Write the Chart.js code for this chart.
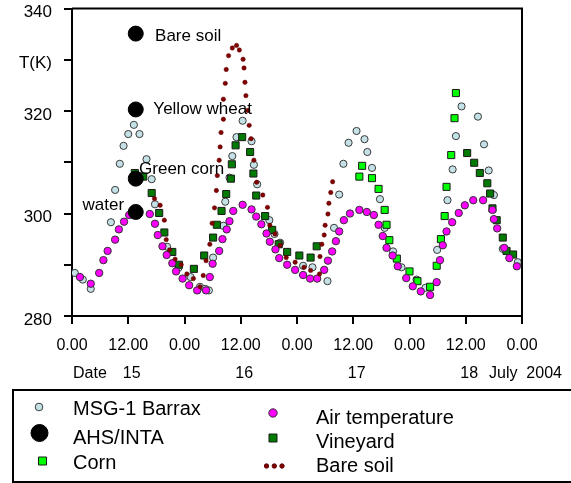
<!DOCTYPE html>
<html>
<head>
<meta charset="utf-8">
<script src="https://cdn.jsdelivr.net/npm/chart.js@4.4.0/dist/chart.umd.min.js"></script>
<style>
  html, body { margin: 0; padding: 0; background: #fff; }
</style>
</head>
<body>
<canvas id="chart" width="571" height="483"></canvas>
<script>
const FONT = "'Liberation Sans', Arial, sans-serif";

// x values are hours after 0.00 on 15 July 2004, y values are T(K)
const msgHours = [0.6, 2.3, 4.0, 8.3, 9.2, 10.2, 11.0, 12.0, 13.2, 14.4, 15.9, 17.0, 17.7, 20.3, 22.7,
  25.3, 27.3, 28.4, 29.2, 30.1, 32.3, 32.7, 33.6, 34.2, 35.1, 36.4, 38.3, 38.8, 39.5, 42.1, 43.2, 44.4,
  49.3, 51.3, 54.5, 55.9, 57.0, 57.9, 59.0, 60.7, 62.4, 63.0, 64.0, 65.7, 66.7, 68.5, 70.3, 73.5, 75.4,
  77.9, 80.1, 81.2, 81.9, 83.1, 86.6, 87.9, 88.9, 90.0, 91.9, 95.1];
const msgTemp = [288.4, 287.1, 285.3, 298.3, 304.6, 309.7, 313.2, 315.5, 317.3, 315.5, 310.6, 306.7, 301.8, 293.5, 289.4,
  287.6, 285.7, 285.3, 285.0, 291.4, 297.6, 302.3, 307.0, 311.2, 314.9, 318.1, 314.1, 309.5, 305.7, 298.7, 296.0, 294.3,
  289.8, 289.5, 286.8, 297.2, 303.7, 309.7, 313.8, 316.1, 314.5, 312.0, 308.9, 302.8, 297.2, 292.6, 289.5, 287.1, 285.5,
  292.9, 302.6, 308.6, 315.1, 320.9, 318.9, 313.5, 308.4, 303.6, 293.1, 290.5];

const ahsHours = [13.6, 13.6, 13.6, 13.6];
const ahsTemp = [335.1, 320.3, 306.8, 300.3];
const ahsLabels = ['Bare soil', 'Yellow wheat', 'Green corn', 'water'];

const cornHours = [61.3, 61.9, 64.0, 65.4, 66.7, 67.1, 67.7, 69.3, 72.0, 73.7, 76.4, 77.8, 78.7, 79.5, 79.9, 80.9, 81.6, 81.9];
const cornTemp = [307.2, 309.3, 306.9, 304.8, 300.7, 297.8, 294.8, 291.2, 288.7, 286.8, 285.7, 289.8, 295.0, 299.5, 305.2, 311.4, 318.6, 323.5];

const airHours = [1.7, 4.0, 5.8, 6.7, 7.6, 9.2, 10.0, 11.1, 12.2, 13.8, 16.6, 17.7, 18.3, 19.3, 20.2, 21.4, 22.2, 23.6,
  25.0, 26.7, 28.6, 29.4, 30.0, 31.4, 32.1, 33.0, 33.6, 34.4, 36.4, 38.3, 39.3, 40.4, 41.5, 42.2, 43.4, 44.2, 45.9,
  47.6, 49.3, 50.8, 52.3, 53.8, 54.6, 55.5, 56.3, 57.0, 58.0, 59.3, 61.3, 62.9, 64.4, 65.4, 66.3, 67.1, 68.4, 69.5,
  71.3, 72.7, 74.4, 76.4, 77.8, 78.5, 79.1, 79.9, 81.1, 82.5, 83.8, 85.6, 87.7, 89.7, 90.0, 90.7, 92.2, 93.3, 94.9];
const airTemp = [287.6, 286.3, 288.4, 290.9, 292.7, 294.9, 296.9, 298.4, 299.7, 300.2, 299.9, 298.0, 295.8, 293.6, 291.9, 290.3, 288.7, 287.3,
  286.0, 285.0, 285.0, 287.6, 290.2, 292.7, 295.0, 296.9, 298.5, 300.5, 301.7, 300.8, 299.4, 297.9, 296.1, 294.5, 293.0, 291.3, 290.0,
  289.0, 288.0, 287.3, 287.3, 289.0, 290.8, 292.6, 294.6, 296.5, 298.7, 300.0, 300.7, 300.3, 299.7, 297.8, 295.6, 293.3, 291.8, 289.7,
  287.4, 285.8, 284.8, 284.1, 286.6, 290.9, 293.8, 296.5, 298.3, 300.1, 301.6, 302.6, 302.6, 300.7, 298.9, 297.1, 293.3, 291.3, 289.7];

const vineHours = [13.4, 15.2, 17.0, 18.6, 19.7, 21.4, 22.8, 26.0, 28.2, 30.1, 30.9, 31.9, 32.9, 33.9, 34.1, 34.9, 36.3,
  38.0, 38.7, 39.3, 41.2, 42.7, 44.1, 45.9, 48.5, 50.9, 52.2,
  84.3, 85.8, 87.0, 88.6, 89.2, 89.7, 90.6, 91.9, 92.7, 94.1];
const vineTemp = [307.9, 307.2, 304.0, 300.1, 296.3, 292.5, 290.0, 289.2, 291.8, 295.3, 297.8, 300.5, 303.8, 306.8, 309.6, 313.3, 314.9,
  312.0, 307.8, 303.5, 299.5, 296.8, 294.0, 292.5, 291.8, 291.4, 293.6,
  311.8, 309.9, 307.9, 305.9, 303.9, 301.0, 298.7, 295.3, 292.7, 292.0];

const soilHours = [17.6, 18.8, 19.7, 20.1, 20.8, 22.0, 23.3, 24.5, 25.9, 27.3, 28.0, 28.6, 29.4, 29.9, 30.4, 30.8, 31.0,
  31.4, 31.6, 31.8, 32.3, 32.3, 32.7, 32.9, 33.4, 34.2, 35.1, 35.7, 36.5, 36.7, 36.9, 37.1, 37.5, 37.8, 38.2, 38.8,
  39.4, 40.7, 41.7, 42.2, 43.3, 44.4, 45.7, 47.6, 49.5, 50.9, 52.8, 52.9, 53.3, 53.8, 54.0, 54.6, 54.8, 55.2, 55.6];
const soilTemp = [302.9, 301.6, 298.7, 294.9, 292.9, 291.1, 290.0, 288.2, 287.3, 285.7, 287.9, 290.8, 294.0, 298.1, 301.1, 304.5, 307.4,
  310.4, 313.0, 315.8, 318.4, 322.3, 325.4, 328.1, 330.8, 332.3, 332.8, 331.9, 330.1, 328.4, 325.6, 323.0, 320.1, 317.2, 314.6, 310.4,
  306.1, 303.6, 301.2, 297.7, 296.0, 293.8, 291.4, 290.5, 289.5, 288.9, 288.2, 291.6, 294.0, 295.8, 297.7, 299.9, 302.0, 304.1, 306.2];

const xTickText = ['0.00', '12.00', '0.00', '12.00', '0.00', '12.00', '0.00', '12.00', '0.00'];
const yTickValues = [280, 290, 300, 310, 320, 330, 340];
const yTickText = ['280', '', '300', '', '320', 'T(K)', '340'];
const dateHours = [12, 36, 60, 84];
const dateText = ['15', '16', '17', '18'];

function pts(xs, ys) {
  return xs.map((x, i) => ({ x: x, y: ys[i] }));
}

const datasets = [
  { label: 'AHS/INTA', data: pts(ahsHours, ahsTemp), pointStyle: 'circle', pointRadius: 7.5,
    backgroundColor: '#000000', borderColor: '#000000', borderWidth: 1 },
  { label: 'Bare soil', data: pts(soilHours, soilTemp), pointStyle: 'circle', pointRadius: 2.2,
    backgroundColor: '#800000', borderColor: '#600000', borderWidth: 0.5 },
  { label: 'Air temperature', data: pts(airHours, airTemp), pointStyle: 'circle', pointRadius: 3.7,
    backgroundColor: '#ff00ff', borderColor: '#333333', borderWidth: 1 },
  { label: 'Corn', data: pts(cornHours, cornTemp), pointStyle: 'rect', pointRadius: 5,
    backgroundColor: '#00ff00', borderColor: '#1a1a1a', borderWidth: 1 },
  { label: 'Vineyard', data: pts(vineHours, vineTemp), pointStyle: 'rect', pointRadius: 5,
    backgroundColor: '#007a00', borderColor: '#1a1a1a', borderWidth: 1 },
  { label: 'MSG-1 Barrax', data: pts(msgHours, msgTemp), pointStyle: 'circle', pointRadius: 3.6,
    backgroundColor: '#c4e2e6', borderColor: '#3a3a3a', borderWidth: 1 }
];

function marker(ctx, ds, x, y, r) {
  ctx.fillStyle = ds.backgroundColor;
  ctx.strokeStyle = ds.borderColor;
  ctx.lineWidth = 1;
  ctx.beginPath();
  if (ds.pointStyle === 'rect') ctx.rect(x - r, y - r, 2 * r, 2 * r);
  else ctx.arc(x, y, r, 0, Math.PI * 2);
  ctx.fill();
  ctx.stroke();
}

const decor = {
  id: 'decor',
  afterDraw(chart) {
    const ctx = chart.ctx;
    const a = chart.chartArea;
    const xs = chart.scales.x;
    const ds = chart.data.datasets;
    const byLabel = l => ds.find(d => d.label === l);
    ctx.save();

    // frame top / right
    ctx.strokeStyle = '#000';
    ctx.lineWidth = 2;
    ctx.beginPath();
    ctx.moveTo(a.left, a.top);
    ctx.lineTo(a.right, a.top);
    ctx.lineTo(a.right, a.bottom);
    ctx.stroke();

    // labels next to the AHS points
    const meta = chart.getDatasetMeta(0);
    const offs = [[19.3, 7, 'left'], [17.6, 4.4, 'left'], [3.3, -5, 'left'], [-11.7, -1.7, 'right']];
    ctx.fillStyle = '#000';
    ctx.font = '17px ' + FONT;
    ctx.textBaseline = 'alphabetic';
    meta.data.forEach((p, i) => {
      ctx.textAlign = offs[i][2];
      ctx.fillText(ahsLabels[i], p.x + offs[i][0], p.y + offs[i][1]);
    });

    // date row
    ctx.font = '16px ' + FONT;
    ctx.textBaseline = 'middle';
    ctx.textAlign = 'left';
    ctx.fillText('Date', xs.getPixelForValue(0) + 1, 374);
    ctx.textAlign = 'center';
    dateHours.forEach((h, i) => ctx.fillText(dateText[i], xs.getPixelForValue(h) + 3.5, 374));
    ctx.textAlign = 'left';
    ctx.fillText('July  2004', 489, 374);

    // legend box
    ctx.lineWidth = 2;
    ctx.strokeStyle = '#000';
    ctx.strokeRect(13, 390, 600, 92);

    marker(ctx, byLabel('MSG-1 Barrax'), 39, 407, 3.8);
    marker(ctx, byLabel('AHS/INTA'), 39.5, 433, 8.5);
    marker(ctx, byLabel('Corn'), 42.5, 461, 4);
    marker(ctx, byLabel('Air temperature'), 273, 413, 4.2);
    marker(ctx, byLabel('Vineyard'), 273, 438, 4);
    const soil = byLabel('Bare soil');
    [266.5, 274.3, 282].forEach(x => marker(ctx, soil, x, 466, 2.2));

    ctx.font = '20px ' + FONT;
    ctx.fillStyle = '#000';
    ctx.textAlign = 'left';
    ctx.textBaseline = 'middle';
    ctx.fillText('MSG-1 Barrax', 73, 409);
    ctx.fillText('AHS/INTA', 73, 438);
    ctx.fillText('Corn', 73, 463);
    ctx.fillText('Air temperature', 316, 418);
    ctx.fillText('Vineyard', 316, 442);
    ctx.fillText('Bare soil', 316, 466);
    ctx.restore();
  }
};

new Chart(document.getElementById('chart'), {
  type: 'scatter',
  data: { datasets: datasets },
  options: {
    responsive: false,
    animation: false,
    events: [],
    layout: { padding: { top: 5, right: 49, left: 0, bottom: 0 } },
    plugins: { legend: { display: false }, tooltip: { enabled: false } },
    scales: {
      x: {
        type: 'linear', min: 0, max: 96,
        afterFit: s => { s.height = 167; s.paddingLeft = 0; s.paddingRight = 0; },
        border: { display: true, color: '#000', width: 2 },
        grid: { drawOnChartArea: false, drawTicks: true, tickLength: 8, color: '#000', lineWidth: 2 },
        ticks: {
          stepSize: 12, autoSkip: false, maxRotation: 0, padding: 12, color: '#000',
          font: { family: FONT, size: 16 },
          callback: v => xTickText[Math.round(v / 12)]
        }
      },
      y: {
        type: 'linear', min: 280, max: 340,
        afterFit: s => { s.width = 72; s.paddingTop = 0; s.paddingBottom = 0; },
        border: { display: true, color: '#000', width: 2 },
        grid: { drawOnChartArea: false, drawTicks: true, tickLength: 8, color: '#000', lineWidth: 2 },
        ticks: {
          stepSize: 10, padding: 12, labelOffset: 4, color: '#000',
          font: { family: FONT, size: 17 },
          callback: v => { const i = yTickValues.indexOf(v); return i < 0 ? '' : yTickText[i]; }
        }
      }
    }
  },
  plugins: [decor]
});
</script>
</body>
</html>
